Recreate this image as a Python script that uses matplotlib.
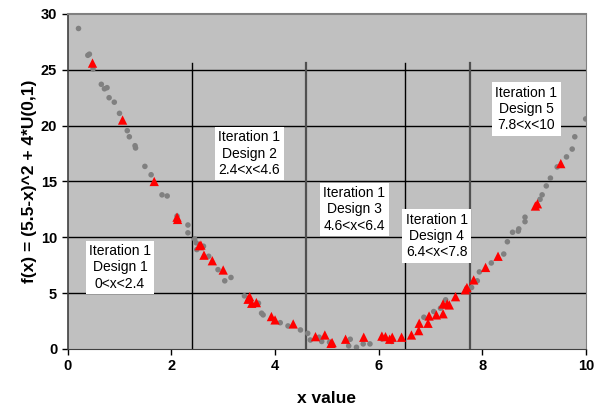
import matplotlib
matplotlib.use("Agg")
import matplotlib.pyplot as plt

plt.rcParams["font.family"] = ["Liberation Sans", "DejaVu Sans"]

# muestras (puntos grises)
x_gris = [0.21, 0.39, 0.42, 0.49, 0.65, 0.71, 0.76, 0.80, 0.90, 1.00, 1.15, 1.19,
          1.30, 1.31, 1.49, 1.61, 1.82, 1.92, 2.11, 2.32, 2.32, 2.45, 2.48,
          2.49, 2.62, 2.72, 2.90, 3.03, 3.15, 3.41, 3.68, 3.74, 3.77, 4.10, 4.25,
          4.49, 4.63, 4.68, 4.85, 4.90, 5.05, 5.42, 5.45, 5.57, 5.70, 5.83,
          6.06, 6.25, 6.87, 7.06, 7.19, 7.29, 7.79, 7.90, 7.94, 8.17, 8.41,
          8.48, 8.58, 8.69, 8.70, 8.82, 8.82, 9.11, 9.15, 9.23, 9.31, 9.44,
          9.62, 9.73, 9.78, 9.99]
y_gris = [28.7, 26.3, 26.4, 25.07, 23.7, 23.3, 23.4, 22.5, 22.1, 21.1, 19.55, 19.0,
          18.2, 18.0, 16.35, 15.6, 13.8, 13.7, 11.9, 11.1, 10.4, 9.85, 9.5,
          8.9, 9.2, 8.3, 7.1, 6.1, 6.4, 4.75, 4.1, 3.2, 3.05, 2.35, 2.06,
          1.7, 1.4, 0.8, 1.05, 0.67, 0.6, 0.27, 0.87, 0.15, 0.45, 0.45,
          0.9, 0.67, 2.84, 3.35, 3.65, 4.4, 5.5, 6.1, 6.9, 7.7, 8.5,
          9.6, 10.45, 10.55, 10.75, 11.8, 11.4, 13.4, 13.8, 14.6, 15.3, 16.3,
          17.2, 17.9, 19.0, 20.6]

# diseños de la iteración 1 (triángulos rojos)
x_rojo = [0.48, 1.06, 1.67, 2.11, 2.12, 2.54, 2.57, 2.63, 2.79, 3.00, 3.51, 3.48,
          3.55, 3.64, 3.93, 4.00, 4.35, 4.78, 4.96, 5.08, 5.10, 5.36, 5.71,
          6.06, 6.13, 6.21, 6.26, 6.44, 6.63, 6.77, 6.78, 6.95, 6.97, 7.11,
          7.24, 7.24, 7.32, 7.36, 7.48, 7.67, 7.70, 7.83, 8.06, 8.30, 9.02,
          9.06, 9.51]
y_rojo = [25.6, 20.5, 15.0, 11.8, 11.6, 9.25, 9.3, 8.4, 7.9, 7.07, 4.68, 4.45,
          4.09, 4.15, 2.9, 2.6, 2.24, 1.1, 1.25, 0.5, 0.57, 0.87, 1.05,
          1.15, 1.1, 0.87, 1.05, 1.05, 1.25, 1.64, 2.3, 2.3, 2.95, 3.05,
          3.15, 4.03, 4.03, 3.94, 4.68, 5.3, 5.5, 6.18, 7.3, 8.3, 12.8,
          13.0, 16.6]

# límites de los diseños
lim_x = [2.4, 4.6, 6.5, 7.75]
lim_col = ["black", "#505050", "black", "#505050"]
lim_lw = [1.0, 1.6, 1.0, 1.6]

etiquetas = ["Iteration 1\nDesign 1\n0<x<2.4", "Iteration 1\nDesign 2\n2.4<x<4.6",
             "Iteration 1\nDesign 3\n4.6<x<6.4", "Iteration 1\nDesign 4\n6.4<x<7.8",
             "Iteration 1\nDesign 5\n7.8<x<10"]
etq_x = [1.01, 3.5, 5.53, 7.12, 8.84]
etq_y = [7.3, 17.5, 12.5, 10.1, 21.5]

fig = plt.figure(figsize=(6, 4.11), dpi=100)
ax = fig.add_axes([0.1127, 0.151, 0.8643, 0.815])
ax.set_facecolor("#C0C0C0")

for yy in range(5, 30, 5):
    ax.axhline(yy, color="black", lw=1.0, zorder=1)
for xx, c, lw in zip(lim_x, lim_col, lim_lw):
    ax.plot([xx, xx], [0, 25.6], color=c, lw=lw, zorder=1)

ax.scatter(x_gris, y_gris, s=16, color="#808080", edgecolors="none", zorder=3)
ax.scatter(x_rojo, y_rojo, s=45, marker="^", color="red", edgecolors="none", zorder=4)

for t, tx, ty in zip(etiquetas, etq_x, etq_y):
    ax.text(tx, ty, t, ha="center", va="center", fontsize=10, linespacing=1.2,
            bbox=dict(facecolor="white", edgecolor="none", pad=2.5), zorder=5)

ax.set_xlim(0, 10); ax.set_ylim(0, 30)
ax.set_xticks(range(0, 11, 2)); ax.set_yticks(range(0, 31, 5))
ax.tick_params(direction="out", length=4, width=1, labelsize=10.5)
for lb in ax.get_xticklabels() + ax.get_yticklabels():
    lb.set_fontweight("bold")
ax.spines["left"].set_color("#404040"); ax.spines["bottom"].set_color("#404040")
ax.spines["top"].set_color("#808080"); ax.spines["right"].set_color("#808080")
ax.spines["top"].set_linewidth(1.5); ax.spines["left"].set_linewidth(1.2)

ax.set_xlabel("x value", fontsize=12.5, fontweight="bold", labelpad=13)
ax.set_ylabel("f(x) = (5.5-x)^2 + 4*U(0,1)", fontsize=12.5, fontweight="bold", labelpad=3)

fig.savefig("out.png", dpi=100)
